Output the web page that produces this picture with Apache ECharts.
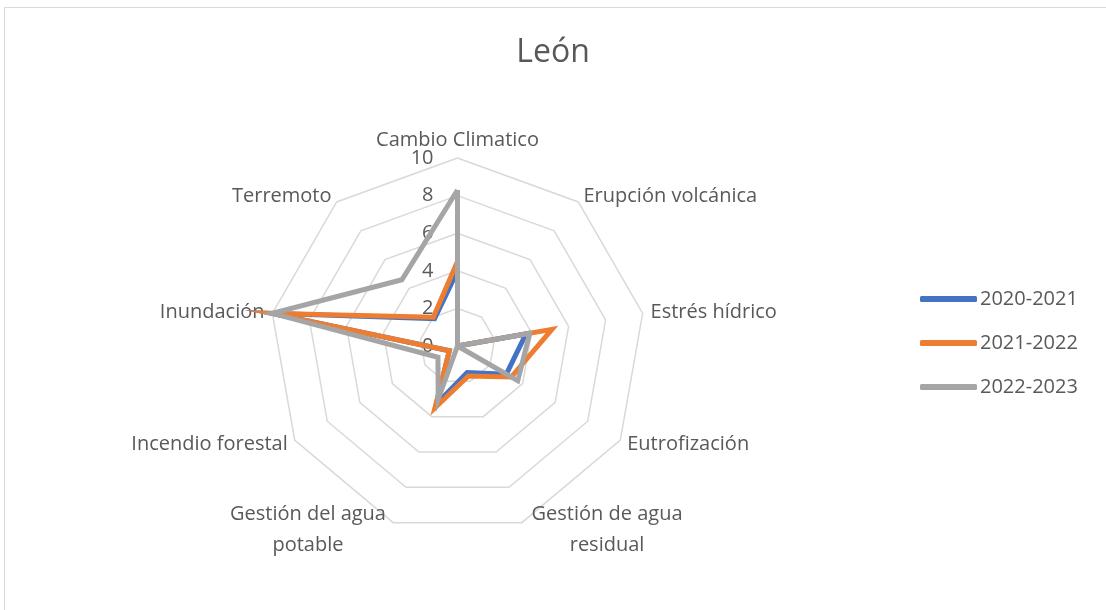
<!DOCTYPE html>
<html>
<head>
<meta charset="utf-8">
<script src="https://cdn.jsdelivr.net/npm/echarts@6/dist/echarts.min.js"></script>
<style>
  html, body { margin: 0; padding: 0; background: #fff; }
  #main { width: 1106px; height: 610px; }
</style>
</head>
<body>
<div id="main"></div>
<script>
// 坐标轴（指标）名称，按顺时针顺序
const indicators = ['Cambio Climatico', 'Erupción volcánica', 'Estrés hídrico', 'Eutrofización',
  'Gestión de agua\nresidual', 'Gestión del agua\npotable', 'Incendio forestal', 'Inundación', 'Terremoto']
const seriesNames = ['2020-2021', '2021-2022', '2022-2023']
// 各年度数值
const values2020 = [4, 0, 3.7, 3, 1.5, 3.3, 0.5, 10, 1.9]
const values2021 = [4.5, 0, 5.1, 3.3, 1.7, 3.5, 0.5, 10, 2]
const values2022 = [8.3, 0, 3.9, 3.7, 0, 3, 1.2, 10, 4.6]
const tickLabels = ['0', '2', '4', '6', '8', '10']

const colors = ['#4472C4', '#ED7D31', '#A5A5A5']
const textColor = '#595959'
const font = 'Open Sans'
const center = [457.5, 346]
const radius = 188

// ECharts 雷达图是逆时针排列，这里把顺序翻转成顺时针
function clockwise(arr) {
  return [arr[0]].concat(arr.slice(1).reverse())
}

let chart = echarts.init(document.getElementById('main'), null, { renderer: 'canvas' })

let option = {
  backgroundColor: '#fff',
  animation: false,
  color: colors,
  title: {
    text: 'León',
    left: 'center',
    top: 32,
    textStyle: { color: textColor, fontSize: 32, fontWeight: 'normal', fontFamily: font }
  },
  graphic: [{
    type: 'rect',
    shape: { x: 4.5, y: 7.5, width: 1200, height: 700 },
    style: { fill: 'none', stroke: '#d9d9d9', lineWidth: 1 },
    silent: true
  }],
  legend: {
    orient: 'vertical',
    left: 915,
    top: 284,
    icon: 'roundRect',
    itemWidth: 57,
    itemHeight: 6,
    itemGap: 24,
    data: seriesNames,
    textStyle: { color: textColor, fontSize: 20, fontFamily: font, padding: [0, 0, 0, -2] }
  },
  radar: {
    center: center,
    radius: radius,
    startAngle: 90,
    shape: 'polygon',
    splitNumber: 5,
    indicator: clockwise(indicators).map(n => ({ name: n, min: 0, max: 10 })),
    nameGap: 8,
    axisName: {
      color: textColor,
      fontSize: 20,
      fontFamily: font,
      formatter: function (name) {
        if (name.indexOf('\n') < 0) return name
        return name.split('\n').map(s => '{c|' + s + '}').join('\n')
      },
      rich: {
        c: { width: 165, align: 'center', color: textColor, fontSize: 20, fontFamily: font, lineHeight: 31 }
      }
    },
    axisLine: { show: false },
    axisTick: { show: false },
    axisLabel: { show: false },
    splitArea: { show: false },
    splitLine: { lineStyle: { color: '#d9d9d9', width: 1.5 } }
  },
  // 只在顶部轴显示刻度数字
  polar: { center: center, radius: radius },
  angleAxis: {
    startAngle: 90,
    show: false,
    min: 0,
    max: 360
  },
  radiusAxis: {
    min: 0,
    max: 10,
    interval: 2,
    axisLine: { show: false },
    axisTick: { show: false },
    splitLine: { show: false },
    axisLabel: {
      show: true,
      formatter: v => '{r|' + tickLabels[v / 2] + '}{s|}',
      rich: {
        r: { width: 28, align: 'right', color: textColor, fontSize: 20, fontFamily: font },
        s: { width: 16 }
      }
    }
  },
  series: [{
    type: 'radar',
    symbol: 'none',
    lineStyle: { width: 5, join: 'miter', miterLimit: 20 },
    z: 3,
    data: [
      { name: seriesNames[0], value: clockwise(values2020), lineStyle: { color: colors[0] } },
      { name: seriesNames[1], value: clockwise(values2021), lineStyle: { color: colors[1] } },
      { name: seriesNames[2], value: clockwise(values2022), lineStyle: { color: colors[2] } }
    ]
  }]
}

chart.setOption(option)
</script>
</body>
</html>
